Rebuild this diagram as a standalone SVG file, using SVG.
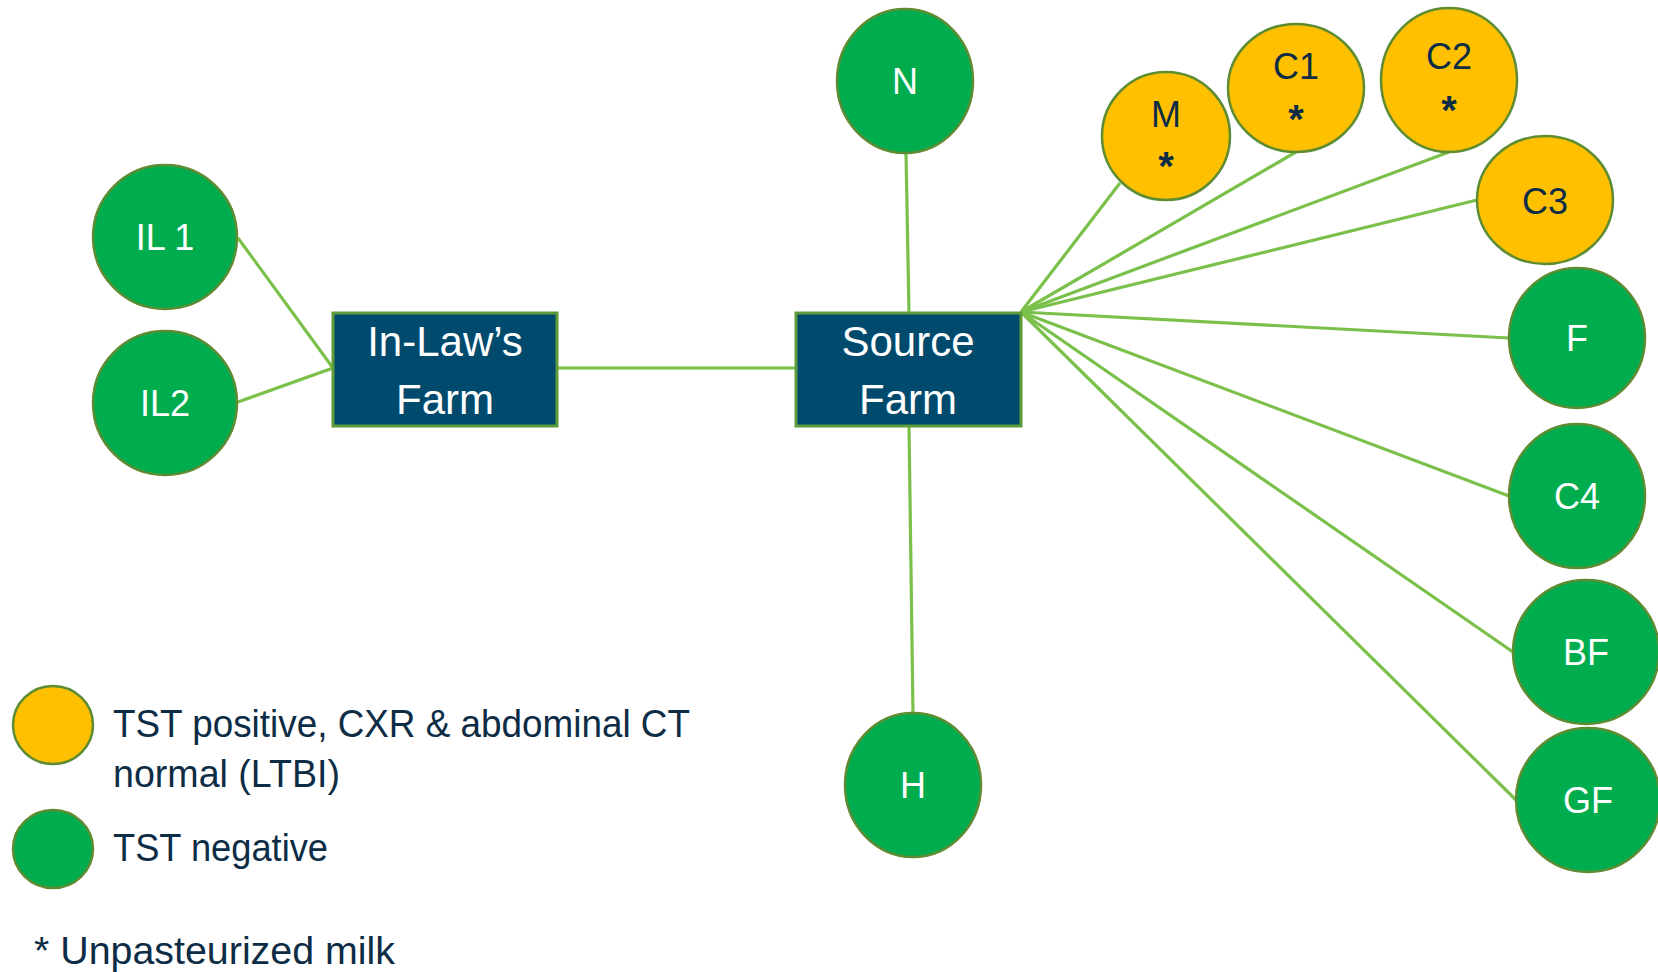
<svg xmlns="http://www.w3.org/2000/svg" width="1658" height="972" viewBox="0 0 1658 972">
<style>
  .conn { stroke: #7AC04A; stroke-width: 3.2; fill: none; }
  .g { fill: #00AD4E; stroke: #5E8C33; stroke-width: 2.5; }
  .y { fill: #FFC000; stroke: #5E8C33; stroke-width: 2.5; }
  .box { fill: #004A6E; stroke: #5E9C3A; stroke-width: 3; }
  .lw { font-family: "Liberation Sans", Arial, sans-serif; font-size: 36px; fill: #FFFFFF; text-anchor: middle; }
  .ld { font-family: "Liberation Sans", Arial, sans-serif; font-size: 36px; fill: #0D2C45; text-anchor: middle; }
  .st { font-family: "Liberation Sans", Arial, sans-serif; font-size: 40px; font-weight: bold; fill: #0D2C45; text-anchor: middle; }
  .bx { font-family: "Liberation Sans", Arial, sans-serif; font-size: 42px; fill: #FFFFFF; text-anchor: middle; }
  .leg { font-family: "Liberation Sans", Arial, sans-serif; font-size: 38px; fill: #0D2C45; }
</style>
<rect width="1658" height="972" fill="#FFFFFF"/>
<g id="connectors">
  <line class="conn" x1="238" y1="238" x2="333" y2="368"/>
  <line class="conn" x1="238" y1="402" x2="333" y2="368"/>
  <line class="conn" x1="557" y1="368" x2="796" y2="368"/>
  <line class="conn" x1="906" y1="153" x2="909" y2="313"/>
  <line class="conn" x1="909" y1="426" x2="913" y2="713"/>
  <line class="conn" x1="1021" y1="312" x2="1120" y2="183"/>
  <line class="conn" x1="1021" y1="312" x2="1296" y2="152"/>
  <line class="conn" x1="1021" y1="312" x2="1449" y2="152"/>
  <line class="conn" x1="1021" y1="312" x2="1477" y2="200"/>
  <line class="conn" x1="1021" y1="312" x2="1509" y2="338"/>
  <line class="conn" x1="1021" y1="312" x2="1509" y2="496"/>
  <line class="conn" x1="1021" y1="312" x2="1513" y2="652"/>
  <line class="conn" x1="1021" y1="312" x2="1516" y2="800"/>
</g>
<g id="inlaw-farm">
  <rect class="box" x="333" y="313" width="224" height="113"/>
  <text class="bx" x="445" y="356">In-Law’s</text>
  <text class="bx" x="445" y="414">Farm</text>
</g>
<g id="source-farm">
  <rect class="box" x="796" y="313" width="225" height="113"/>
  <text class="bx" x="908" y="356">Source</text>
  <text class="bx" x="908" y="414">Farm</text>
</g>
<g id="node-il1">
  <ellipse class="g" cx="165" cy="237" rx="72" ry="72"/>
  <text class="lw" x="165" y="250">IL 1</text>
</g>
<g id="node-il2">
  <ellipse class="g" cx="165" cy="403" rx="72" ry="72"/>
  <text class="lw" x="165" y="416">IL2</text>
</g>
<g id="node-n">
  <ellipse class="g" cx="905" cy="81" rx="68" ry="72"/>
  <text class="lw" x="905" y="94">N</text>
</g>
<g id="node-h">
  <ellipse class="g" cx="913" cy="785" rx="68" ry="72"/>
  <text class="lw" x="913" y="798">H</text>
</g>
<g id="node-m">
  <ellipse class="y" cx="1166" cy="136" rx="64" ry="64"/>
  <text class="ld" x="1166" y="127">M</text>
  <text class="st" x="1166" y="180">*</text>
</g>
<g id="node-c1">
  <ellipse class="y" cx="1296" cy="88" rx="68" ry="64"/>
  <text class="ld" x="1296" y="79">C1</text>
  <text class="st" x="1296" y="133">*</text>
</g>
<g id="node-c2">
  <ellipse class="y" cx="1449" cy="80" rx="68" ry="72"/>
  <text class="ld" x="1449" y="69">C2</text>
  <text class="st" x="1449" y="124">*</text>
</g>
<g id="node-c3">
  <ellipse class="y" cx="1545" cy="200" rx="68" ry="64"/>
  <text class="ld" x="1545" y="214">C3</text>
</g>
<g id="node-f">
  <ellipse class="g" cx="1577" cy="338" rx="68" ry="70"/>
  <text class="lw" x="1577" y="351">F</text>
</g>
<g id="node-c4">
  <ellipse class="g" cx="1577" cy="496" rx="68" ry="72"/>
  <text class="lw" x="1577" y="509">C4</text>
</g>
<g id="node-bf">
  <ellipse class="g" cx="1586" cy="652" rx="73" ry="72"/>
  <text class="lw" x="1586" y="665">BF</text>
</g>
<g id="node-gf">
  <ellipse class="g" cx="1588" cy="800" rx="72" ry="72"/>
  <text class="lw" x="1588" y="813">GF</text>
</g>
<g id="legend">
  <ellipse class="y" cx="53" cy="725" rx="40" ry="39"/>
  <text class="leg" x="113" y="737" textLength="577" lengthAdjust="spacingAndGlyphs">TST positive, CXR &amp; abdominal CT</text>
  <text class="leg" x="113" y="787" textLength="227" lengthAdjust="spacingAndGlyphs">normal (LTBI)</text>
  <ellipse class="g" cx="53" cy="849" rx="40" ry="39"/>
  <text class="leg" x="113" y="861" textLength="215" lengthAdjust="spacingAndGlyphs">TST negative</text>
  <text class="leg" x="34" y="964" textLength="361" lengthAdjust="spacingAndGlyphs">* Unpasteurized milk</text>
</g>
</svg>
